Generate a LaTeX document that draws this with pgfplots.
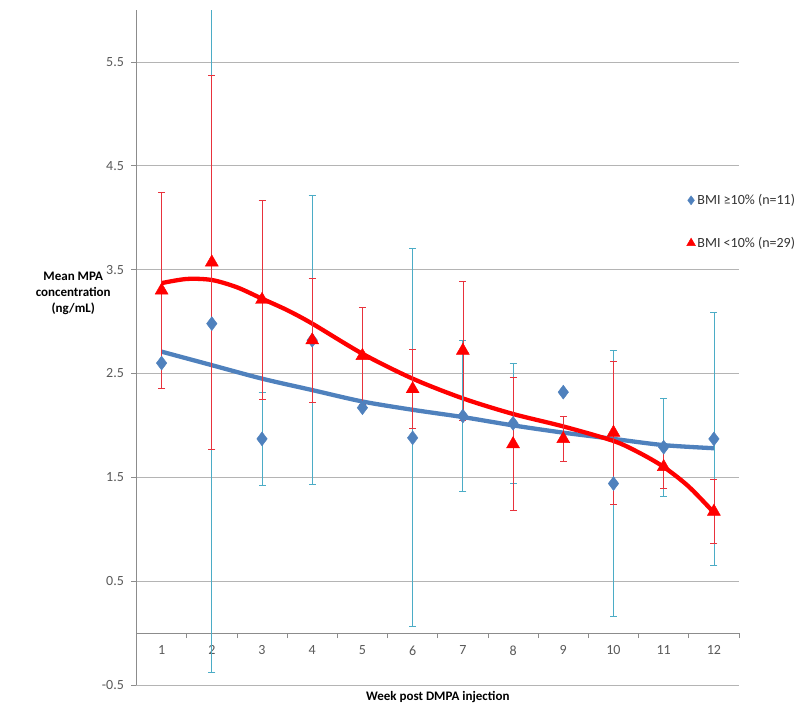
\documentclass[border=0pt]{standalone}
\usepackage{pgfplots}
\pgfplotsset{compat=1.18}
\usepackage{fontspec}
\setmainfont{Carlito}
\definecolor{mblue}{HTML}{4F81BD}
\definecolor{eblue}{HTML}{4BACC6}
\definecolor{mred}{HTML}{FF0000}
\definecolor{ered}{HTML}{E8323C}
\definecolor{gridc}{HTML}{B4B4B4}
\definecolor{axisc}{HTML}{8C8C8C}
\definecolor{tickc}{HTML}{595959}

\pgfplotstableread{
x y e
1 2.60 0
2 2.98 3.36
3 1.87 0.45
4 2.82 1.39
5 2.17 0
6 1.88 1.82
7 2.09 0.73
8 2.02 0.58
9 2.32 0
10 1.44 1.28
11 1.79 0.47
12 1.87 1.22
}\bluedata

\pgfplotstableread{
x y e
1 3.30 0.94
2 3.57 1.80
3 3.21 0.96
4 2.82 0.60
5 2.67 0.47
6 2.35 0.38
7 2.72 0.67
8 1.82 0.64
9 1.87 0.22
10 1.93 0.69
11 1.60 0.21
12 1.17 0.31
}\reddata

\pgfplotstableread{
x y
1 2.71
1.5 2.645
2 2.58
3 2.45
4 2.34
5 2.23
6 2.15
7 2.08
8 2.00
9 1.93
10 1.87
11 1.81
12 1.78
}\bluetrend

\pgfplotstableread{
x y
1 3.37
1.5 3.41
2 3.40
2.5 3.33
3 3.22
3.5 3.11
4 2.98
5 2.69
6 2.45
7 2.26
8 2.11
9 1.99
10 1.85
10.5 1.74
11 1.60
11.5 1.41
12 1.16
}\redtrend

\begin{document}
\begin{tikzpicture}[x=1pt,y=1pt]
\useasboundingbox (-136.5,-25) rectangle (663.5,685);
\begin{axis}[
  at={(0,0)}, anchor=south west,
  scale only axis, width=602.5pt, height=675pt,
  xmin=0.5, xmax=12.5, ymin=-0.5, ymax=6,
  axis y line*=left, axis x line*=middle,
  hide obscured x ticks=false,
  axis line style={draw=axisc, line width=0.6pt},
  xtick={0.5,1.5,2.5,3.5,4.5,5.5,6.5,7.5,8.5,9.5,10.5,11.5,12.5},
  x tick label as interval,
  xticklabels={1,2,3,4,5,6,7,8,9,10,11,12},
  ytick={-0.5,0.5,1.5,2.5,3.5,4.5,5.5},
  yticklabels={-0.5,0.5,1.5,2.5,3.5,4.5,5.5},
  tick align=outside,
  major tick length=5pt,
  tick style={draw=axisc, line width=0.6pt},
  ymajorgrids,
  grid style={draw=gridc, line width=0.6pt},
  xticklabel style={font=\fontsize{14}{16}\selectfont, text=tickc, yshift=-4pt},
  yticklabel style={font=\fontsize{14}{16}\selectfont, text=tickc, xshift=-4pt},
  xlabel={Week post DMPA injection},
  xlabel style={at={(axis description cs:0.5,0)}, anchor=north, yshift=-3pt, font=\fontsize{13}{15}\selectfont\bfseries},
  ylabel={Mean MPA\\concentration\\(ng/mL)},
  ylabel style={rotate=-90, align=center, at={(axis description cs:-0.105,0.58)}, anchor=center, font=\fontsize{13}{16}\selectfont\bfseries},
  legend style={at={(axis description cs:0.913,0.73)}, anchor=north west, draw=none, fill=none,
    font=\fontsize{14}{16}\selectfont, text=black!80, row sep=27pt, inner xsep=0pt, inner ysep=0pt},
  legend cell align=left,
  clip=true,
]
% trend lines
\addplot[forget plot, color=mblue, line width=4.3pt, smooth] table[x=x,y=y] {\bluetrend};
\addplot[forget plot, color=mred, line width=4.3pt, smooth] table[x=x,y=y] {\redtrend};
% blue series
\addplot[forget plot, only marks, mark=diamond*, mark size=7pt, color=mblue,
  error bars/.cd, y dir=both, y explicit,
  error bar style={color=eblue, line width=0.8pt},
  error mark options={rotate=90, color=eblue, mark size=3.5pt, line width=0.8pt}]
  table[x=x,y=y,y error=e] {\bluedata};
% red series
\addplot[forget plot, only marks, mark=triangle*, mark size=7.5pt, color=mred,
  error bars/.cd, y dir=both, y explicit,
  error bar style={color=ered, line width=0.7pt},
  error mark options={rotate=90, color=ered, mark size=3.5pt, line width=0.7pt}]
  table[x=x,y=y,y error=e] {\reddata};
\addlegendimage{only marks, mark=diamond*, mark size=4.5pt, color=mblue}
\addlegendentry{BMI ≥10\% (n=11)}
\addlegendimage{only marks, mark=triangle*, mark size=5pt, color=mred}
\addlegendentry{BMI <10\% (n=29)}
\end{axis}
\end{tikzpicture}
\end{document}
